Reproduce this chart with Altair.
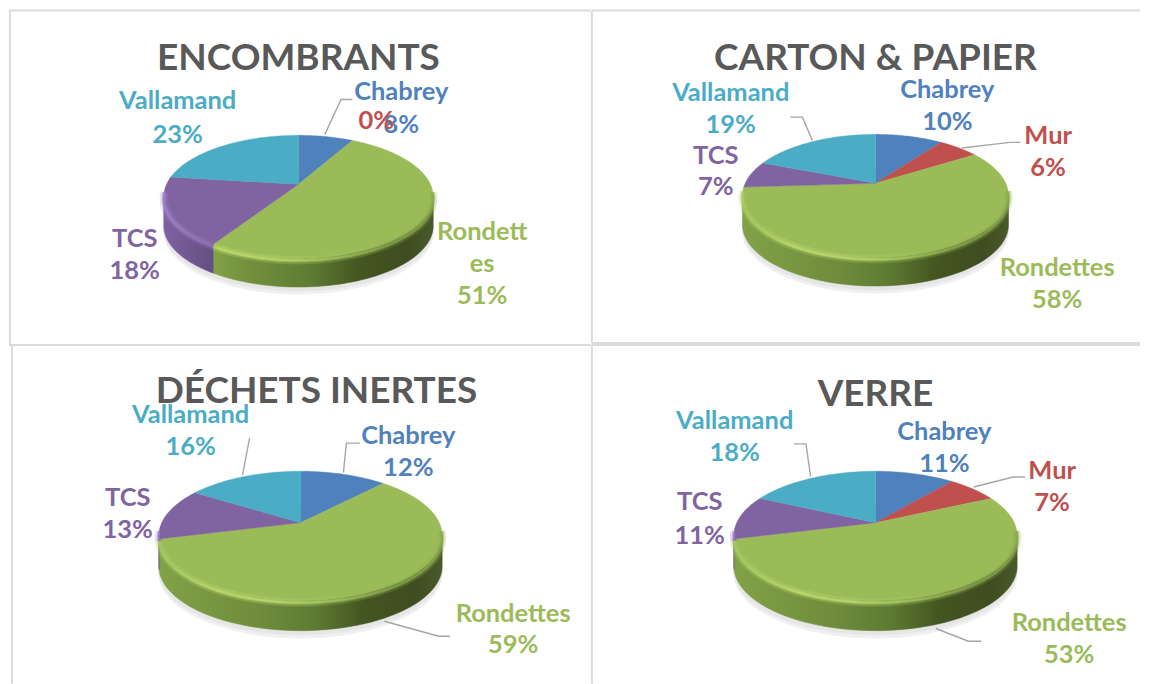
import math
import altair as alt
import pandas as pd

# ---- values ----
SERIES = ["Chabrey", "Mur", "Rondettes", "TCS", "Vallamand"]
ENCOMBRANTS = [8, 0, 51, 18, 23]
CARTON = [10, 6, 58, 7, 19]
INERTES = [12, 0, 59, 13, 16]
VERRE = [11, 7, 53, 11, 18]
TITLES = ["ENCOMBRANTS", "CARTON & PAPIER", "DÉCHETS INERTES", "VERRE"]

# ---- styles and layout ----
COLORS = {"Chabrey": "#4f81bd", "Mur": "#c0504d", "Rondettes": "#9bbb59",
          "TCS": "#8064a2", "Vallamand": "#4bacc6"}
FONT = "Lato"
K = 0.203          # perspective of the tilted disc
DEPTH = 0.49       # wall height in pie units
OX, OY = 8, 8
W1, W2, H1, H2 = 583, 550, 337, 339
LABEL_NUDGE, TITLE_NUDGE = 1, 2

PANELS = [
    dict(values=ENCOMBRANTS, title=TITLES[0], ox=OX, oy=OY, w=W1, h=H1, apex=(298, 184), rx=132.2, ry=59,
         title_at=(298, 57),
         labels=[("Vallamand", ["Vallamand", "23%"], 177, [100, 134]),
                 ("Chabrey", ["Chabrey", "8%"], 401, [91, 124]),
                 ("Mur", ["0%"], 376, [120]),
                 ("TCS", ["TCS", "18%"], 134, [238, 270]),
                 ("Rondettes", ["Rondett", "es", "51%"], 482, [231, 263, 295])],
         leaders=[[(324.4, 134), (340.6, 99), (352, 99)]],
         frame=[("v", 1, 2, 337), ("h", 2, 0, W1), ("h", 337, 0, W1)]),
    dict(values=CARTON, title=TITLES[1], ox=OX + W1, oy=OY, w=W2, h=H1, apex=(876, 183), rx=130.5, ry=59,
         title_at=(876, 57),
         labels=[("Vallamand", ["Vallamand", "19%"], 731, [92, 124]),
                 ("Chabrey", ["Chabrey", "10%"], 948, [89, 121]),
                 ("Mur", ["Mur", "6%"], 1049, [135, 167]),
                 ("TCS", ["TCS", "7%"], 716, [155, 186]),
                 ("Rondettes", ["Rondettes", "58%"], 1058, [267, 299])],
         leaders=[[(812.8, 140), (802.8, 116.7), (790.7, 116.7)],
                  [(962.5, 147.7), (1010.7, 142), (1021.4, 142)]],
         frame=[("v", 1, 2, 335), ("h", 2, 1, W2), ("h", 335, 1, W2)]),
    dict(values=INERTES, title=TITLES[2], ox=OX, oy=OY + H1, w=W1, h=H2, apex=(300, 523), rx=139, ry=62,
         title_at=(316, 390),
         labels=[("Vallamand", ["Vallamand", "16%"], 190, [414, 446]),
                 ("Chabrey", ["Chabrey", "12%"], 408, [435, 467]),
                 ("TCS", ["TCS", "13%"], 127, [497, 529]),
                 ("Rondettes", ["Rondettes", "59%"], 513, [613, 645])],
         leaders=[[(343, 472.7), (346, 443.3), (359.4, 443.3)],
                  [(242, 475), (249, 438.3)],
                  [(384, 621.7), (438.5, 636.7), (449.8, 636.7)]],
         frame=[("v", 3, 0, 339)]),
    dict(values=VERRE, title=TITLES[3], ox=OX + W1, oy=OY + H1, w=W2, h=H2, apex=(876, 523), rx=139, ry=62,
         title_at=(876, 393),
         labels=[("Vallamand", ["Vallamand", "18%"], 735, [420, 452]),
                 ("Chabrey", ["Chabrey", "11%"], 945, [431, 463]),
                 ("Mur", ["Mur", "7%"], 1053, [470, 502]),
                 ("TCS", ["TCS", "11%"], 700, [501, 535]),
                 ("Rondettes", ["Rondettes", "53%"], 1070, [623, 655])],
         leaders=[[(811, 476.7), (806.4, 444), (794.3, 444)],
                  [(974.3, 487.3), (1014, 477.3), (1025.7, 477.3)],
                  [(936.5, 629), (969, 641.7), (982, 641.7)]],
         frame=[("v", 1, 0, 339), ("h", 0, 1, W2)]),
]

WALL_STOPS = {
    "Rondettes": [(0, "#82a147"), (0.35, "#708c3c"), (0.55, "#5f7b33"), (0.72, "#445621"), (0.9, "#3e4d20"), (1, "#48592a")],
    "TCS": [(0, "#7d62a0"), (0.25, "#654e83"), (1, "#5c4775")],
}
RIM_STOPS = {
    "Rondettes": [(0, "#a9ca62"), (0.2, "#c0e071"), (0.42, "#bfdf70"), (0.65, "#a3c45d"), (0.85, "#86a34a"), (1, "#8aa84c")],
    "TCS": [(0, "#a083c8"), (0.25, "#9074b6"), (0.5, "#8064a2")],
}


def project(deg, drop=0.0):
    a = math.radians(deg)
    d = 1 + K * math.cos(a)
    return math.sin(a) / d, math.cos(a) / d - drop


def gradient(stops, umin, umax):
    span = max(umax - umin, 1e-6)
    inside = [(min(max((o - umin) / span, 0), 1), c) for o, c in stops]
    return {"gradient": "linear", "x1": 0, "y1": 0, "x2": 1, "y2": 0,
            "stops": [{"offset": o, "color": c} for o, c in inside]}


def u_of(x):
    return (x + 1.021) / 2.042


def poly(points):
    return pd.DataFrame([{"x": x, "y": y, "i": i} for i, (x, y) in enumerate(points)])


def panel(p):
    apx, apy = p["apex"]
    xdom = [(p["ox"] - apx) / p["rx"], (p["ox"] + p["w"] - apx) / p["rx"]]
    ydom = [(apy - p["oy"] - p["h"]) / p["ry"], (apy - p["oy"]) / p["ry"]]
    enc = dict(
        x=alt.X("x:Q", axis=None, scale=alt.Scale(domain=xdom, nice=False, zero=False)),
        y=alt.Y("y:Q", axis=None, scale=alt.Scale(domain=ydom, nice=False, zero=False)),
    )
    layers = []

    def add(points, **mark):
        layers.append(alt.Chart(poly(points)).mark_line(interpolate="linear-closed", **mark)
                      .encode(order=alt.Order("i:Q"), **enc))

    # shadow under the disc
    for extra, col in ((0.12, "#f0f0f0"), (0.07, "#e6e6e6")):
        add([project(d, DEPTH + extra) for d in range(0, 360, 2)], fill=col, stroke=col, strokeWidth=0.5)

    # slices: angles clockwise from the top
    spans, cum = {}, 0
    for name, v in zip(SERIES, p["values"]):
        spans[name] = (cum * 3.6, (cum + v) * 3.6)
        cum += v
    lo, hi = 101.7, 258.3

    # wall
    for name in SERIES:
        a0, a1 = max(spans[name][0], lo), min(spans[name][1], hi)
        if a1 <= a0 or name not in WALL_STOPS:
            continue
        steps = [a0 + (a1 - a0) * t / 60 for t in range(61)]
        top = [project(d) for d in steps]
        bottom = [project(d, DEPTH) for d in reversed(steps)]
        xs = [q[0] for q in top + bottom]
        grad = gradient(WALL_STOPS[name], u_of(min(xs)), u_of(max(xs)))
        add(top + bottom, fill=grad, stroke=grad, strokeWidth=0.5)

    # top faces
    for name in SERIES:
        a0, a1 = spans[name]
        if a1 <= a0:
            continue
        n = max(int(a1 - a0), 2)
        pts = [(0.0, 0.0)] + [project(a0 + (a1 - a0) * t / n) for t in range(n + 1)]
        add(pts, fill=COLORS[name], stroke=COLORS[name], strokeWidth=0.4)

    # bevel along the front rim
    for name in SERIES:
        a0, a1 = max(spans[name][0], lo - 6), min(spans[name][1], hi + 6)
        if a1 <= a0 or name not in RIM_STOPS:
            continue
        pts = [project(a0 + (a1 - a0) * t / 90, 0.035) for t in range(91)]
        xs = [q[0] for q in pts]
        grad = gradient(RIM_STOPS[name], u_of(min(xs)), u_of(max(xs)))
        for width, op in ((8, 0.25), (4, 0.55), (2, 0.6)):
            layers.append(alt.Chart(poly(pts)).mark_line(stroke=grad, strokeWidth=width, opacity=op)
                          .encode(order=alt.Order("i:Q"), **enc))

    # leader lines
    for leader in p["leaders"]:
        pts = [((ax - apx) / p["rx"], (apy - ay) / p["ry"]) for ax, ay in leader]
        layers.append(alt.Chart(poly(pts)).mark_line(stroke="#a6a6a6", strokeWidth=1.4)
                      .encode(order=alt.Order("i:Q"), **enc))

    # data labels
    rows = []
    for name, lines, ax, ays in p["labels"]:
        for line, ay in zip(lines, ays):
            rows.append({"x": (ax - apx) / p["rx"], "y": (apy - ay - LABEL_NUDGE) / p["ry"], "t": line, "s": name})
    layers.append(alt.Chart(pd.DataFrame(rows)).mark_text(font=FONT, fontWeight="bold", fontSize=25.5, baseline="middle")
                  .encode(text="t:N",
                          color=alt.Color("s:N", legend=None,
                                          scale=alt.Scale(domain=SERIES, range=[COLORS[s] for s in SERIES])),
                          **enc))

    # chart title
    tx, ty = p["title_at"]
    layers.append(alt.Chart(pd.DataFrame([{"x": (tx - apx) / p["rx"], "y": (apy - ty - TITLE_NUDGE) / p["ry"], "t": p["title"]}]))
                  .mark_text(font=FONT, fontWeight="bold", fontSize=37, baseline="middle", color="#595959")
                  .encode(text="t:N", **enc))

    # frame lines of the four pictures
    one = pd.DataFrame([{"z": 0}])
    for kind, at, start, end in p["frame"]:
        if kind == "v":
            e = dict(x=alt.value(at), y=alt.value(start), y2=alt.value(end))
        else:
            e = dict(y=alt.value(at), x=alt.value(start), x2=alt.value(end))
        layers.append(alt.Chart(one).mark_rule(color="#dcdcdc", strokeWidth=2).encode(**e))

    return alt.layer(*layers).properties(width=p["w"], height=p["h"])


chart = (alt.concat(*[panel(p) for p in PANELS], columns=2, spacing=0, bounds="flush")
         .properties(padding=0, background="white")
         .configure_view(stroke=None))
chart.save("out.html", embed_options={"renderer": "svg", "actions": False})
